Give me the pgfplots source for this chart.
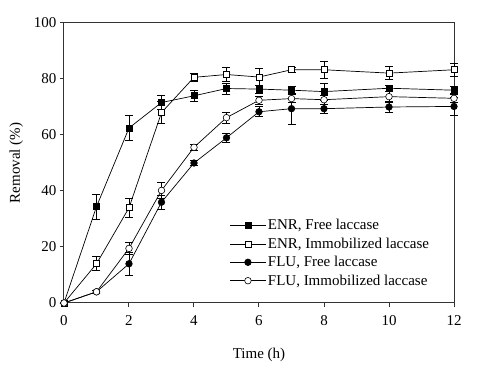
\documentclass[border=0pt]{standalone}
\usepackage{fontspec}
\setmainfont{Liberation Serif}
\usepackage{pgfplots}
\pgfplotsset{compat=1.18}
\begin{document}
\begin{tikzpicture}
\begin{axis}[
  scale only axis, width=390pt, height=280pt,
  xmin=0, xmax=12, ymin=0, ymax=100,
  xtick={0,2,4,6,8,10,12}, ytick={0,20,40,60,80,100},
  tick align=outside, tick pos=left, major tick length=4pt,
  axis line style={line width=1pt, black!80},
  tick style={line width=1pt, black!80},
  /pgf/number format/assume math mode=true,
  ticklabel style={font=\fontsize{15}{17}\selectfont},
  xticklabel style={yshift=-5pt},
  label style={font=\fontsize{15}{17}\selectfont},
  xlabel={Time (h)}, ylabel={Removal (\%)},
  xlabel style={yshift=-16pt},
  ylabel style={yshift=4pt},
  clip=false,
  legend style={at={(0.425,0.306)}, anchor=north west, draw=none, fill=none,
    font=\fontsize{15}{17}\selectfont, row sep=2.5pt, inner sep=0pt},
  legend cell align=left,
  legend image code/.code={
    \draw[mark repeat=2,mark phase=2,#1] plot coordinates {(0cm,0cm) (0.62cm,0cm) (1.24cm,0cm)};
  },
  every axis plot/.append style={line width=0.7pt, black, mark size=3.3pt,
    error bars/error bar style={black, line width=0.7pt},
    error bars/error mark options={rotate=90, mark size=4pt, line width=0.7pt, black}},
]
\addplot[black, mark=square*, mark options={fill=black, solid, line width=0.6pt, mark size=3pt},
  error bars/.cd, y dir=both, y explicit]
  table[x=x, y=y, y error=e] {
x y e
0 0 0
1 34.4 4.5
2 62.5 4.5
3 71.6 2.5
4 74.0 2.0
5 76.6 2.0
6 76.4 1.5
7 76.0 1.5
8 75.5 3.0
10 76.7 1.2
12 76.0 1.2
};
\addlegendentry{ENR, Free laccase}
\addplot[black, mark=square*, mark options={fill=white, solid, line width=0.6pt, mark size=3pt},
  error bars/.cd, y dir=both, y explicit]
  table[x=x, y=y, y error=e] {
x y e
0 0 0
1 14.0 2.5
2 34.0 3.5
3 68.0 4.0
4 80.6 1.5
5 81.6 2.5
6 80.7 3.0
7 83.3 1.0
8 83.3 2.9
10 82.1 2.4
12 83.3 2.4
};
\addlegendentry{ENR, Immobilized laccase}
\addplot[black, mark=*, mark options={fill=black, solid, line width=0.6pt},
  error bars/.cd, y dir=both, y explicit]
  table[x=x, y=y, y error=e] {
x y e
0 0 0
1 4.0 0.5
2 14.0 4.0
3 36.0 2.5
4 50.0 1.0
5 59.0 1.5
6 68.3 1.8
7 69.4 5.6
8 69.4 1.7
10 70.0 2.0
12 70.2 3.1
};
\addlegendentry{FLU, Free laccase}
\addplot[black, mark=*, mark options={fill=white, solid, line width=0.6pt},
  error bars/.cd, y dir=both, y explicit]
  table[x=x, y=y, y error=e] {
x y e
0 0 0
1 4.0 0.5
2 19.5 2.0
3 40.2 3.0
4 55.6 1.0
5 66.2 2.0
6 72.4 1.5
7 73.0 1.5
8 72.6 1.5
10 73.7 2.0
12 73.1 1.5
};
\addlegendentry{FLU, Immobilized laccase}
\end{axis}
\path ([xshift=-64pt,yshift=-80pt]current axis.south west) rectangle ([xshift=26pt,yshift=23pt]current axis.north east);
\end{tikzpicture}
\end{document}
